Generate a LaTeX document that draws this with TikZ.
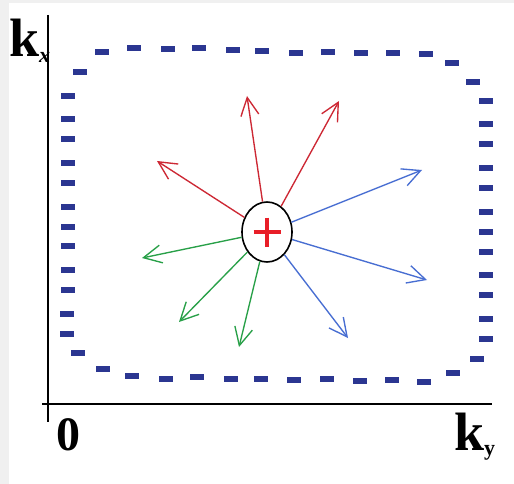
\documentclass[tikz,border=0pt]{standalone}
\usepackage{fontspec}
\setmainfont{Liberation Serif}
\usepackage{tikz}
\usetikzlibrary{arrows.meta,shapes.geometric}

\definecolor{framenavy}{RGB}{43,54,145}
\definecolor{rayred}{RGB}{205,40,52}
\definecolor{rayblue}{RGB}{72,110,210}
\definecolor{raygreen}{RGB}{40,160,72}
\definecolor{plusred}{RGB}{232,30,40}
\definecolor{edgegray}{RGB}{240,240,240}

\begin{document}
\begin{tikzpicture}[
  x=1pt, y=-1pt,
  >={Straight Barb[length=18pt,width=18pt]},
  axis/.style={line width=1.6pt},
  bar/.style={fill=framenavy},
  ray/.style={->, line width=1.35pt},
  charge/.style={draw, ellipse, line width=1.6pt, minimum width=50pt, minimum height=60pt, inner sep=0pt, fill=white},
  lbl/.style={inner sep=0pt, anchor=base west, font=\bfseries}
]
% page and its grey edge
\fill[edgegray] (0,0) rectangle (514,484);
\fill[white] (9,3) rectangle (514,484);
\useasboundingbox (0,0) rectangle (514,484);

% axes
\draw[axis] (48,15) -- (48,422);
\draw[axis] (42,404) -- (492,404);
\node[lbl] (kx) at (9,57) {\fontsize{54}{54}\selectfont k\raisebox{-6pt}{\fontsize{22}{22}\selectfont\itshape x}};
\node[lbl] (zero) at (56,450) {\fontsize{48}{48}\selectfont 0};
\node[lbl] (ky) at (454,450) {\fontsize{54}{54}\selectfont k\raisebox{-5pt}{\fontsize{22}{22}\selectfont y}};

% dashed frame
\foreach \p in {(80,72),(102,52),(134,48),(168,49),(199,48),(233,50),(262,51),(296,53),(328,52),(361,53),(393,53),(426,54),(452,63),(473,82),
  (486,101),(486,124),(486,144),(486,168),(486,188),(486,212),(486,232),(486,252),(486,275),(486,295),(486,319),(486,339),
  (477,359),(453,373),(424,382),(392,380),(360,381),(327,379),(294,380),(261,379),(231,379),(197,377),(166,379),(132,376),(103,369),(78,353),
  (67,334),(67,314),(68,290),(68,270),(68,246),(68,227),(68,207),(68,183),(68,163),(68,139),(68,119),(68,96)}
  \fill[bar] \p ++(-7,-3.2) rectangle ++(14,6.4);

% charge and its rays
\node[charge] (c) at (267,232) {};
\draw[plusred, line width=3.6pt] ([xshift=-13.5pt]c.center) -- ([xshift=13.5pt]c.center);
\draw[plusred, line width=3.6pt] ([yshift=14.5pt]c.center) -- ([yshift=-14.5pt]c.center);

\coordinate (r1) at (247,96);
\coordinate (r2) at (339,101);
\coordinate (r3) at (157,161);
\coordinate (b1) at (422,170);
\coordinate (b2) at (427,280);
\coordinate (b3) at (348,338);
\coordinate (g1) at (142,258);
\coordinate (g2) at (179,322);
\coordinate (g3) at (239,347);

\foreach \n in {r1,r2,r3} \draw[ray, rayred] (c) -- (\n);
\foreach \n in {b1,b2,b3} \draw[ray, rayblue] (c) -- (\n);
\foreach \n in {g1,g2,g3} \draw[ray, raygreen] (c) -- (\n);
\end{tikzpicture}
\end{document}
